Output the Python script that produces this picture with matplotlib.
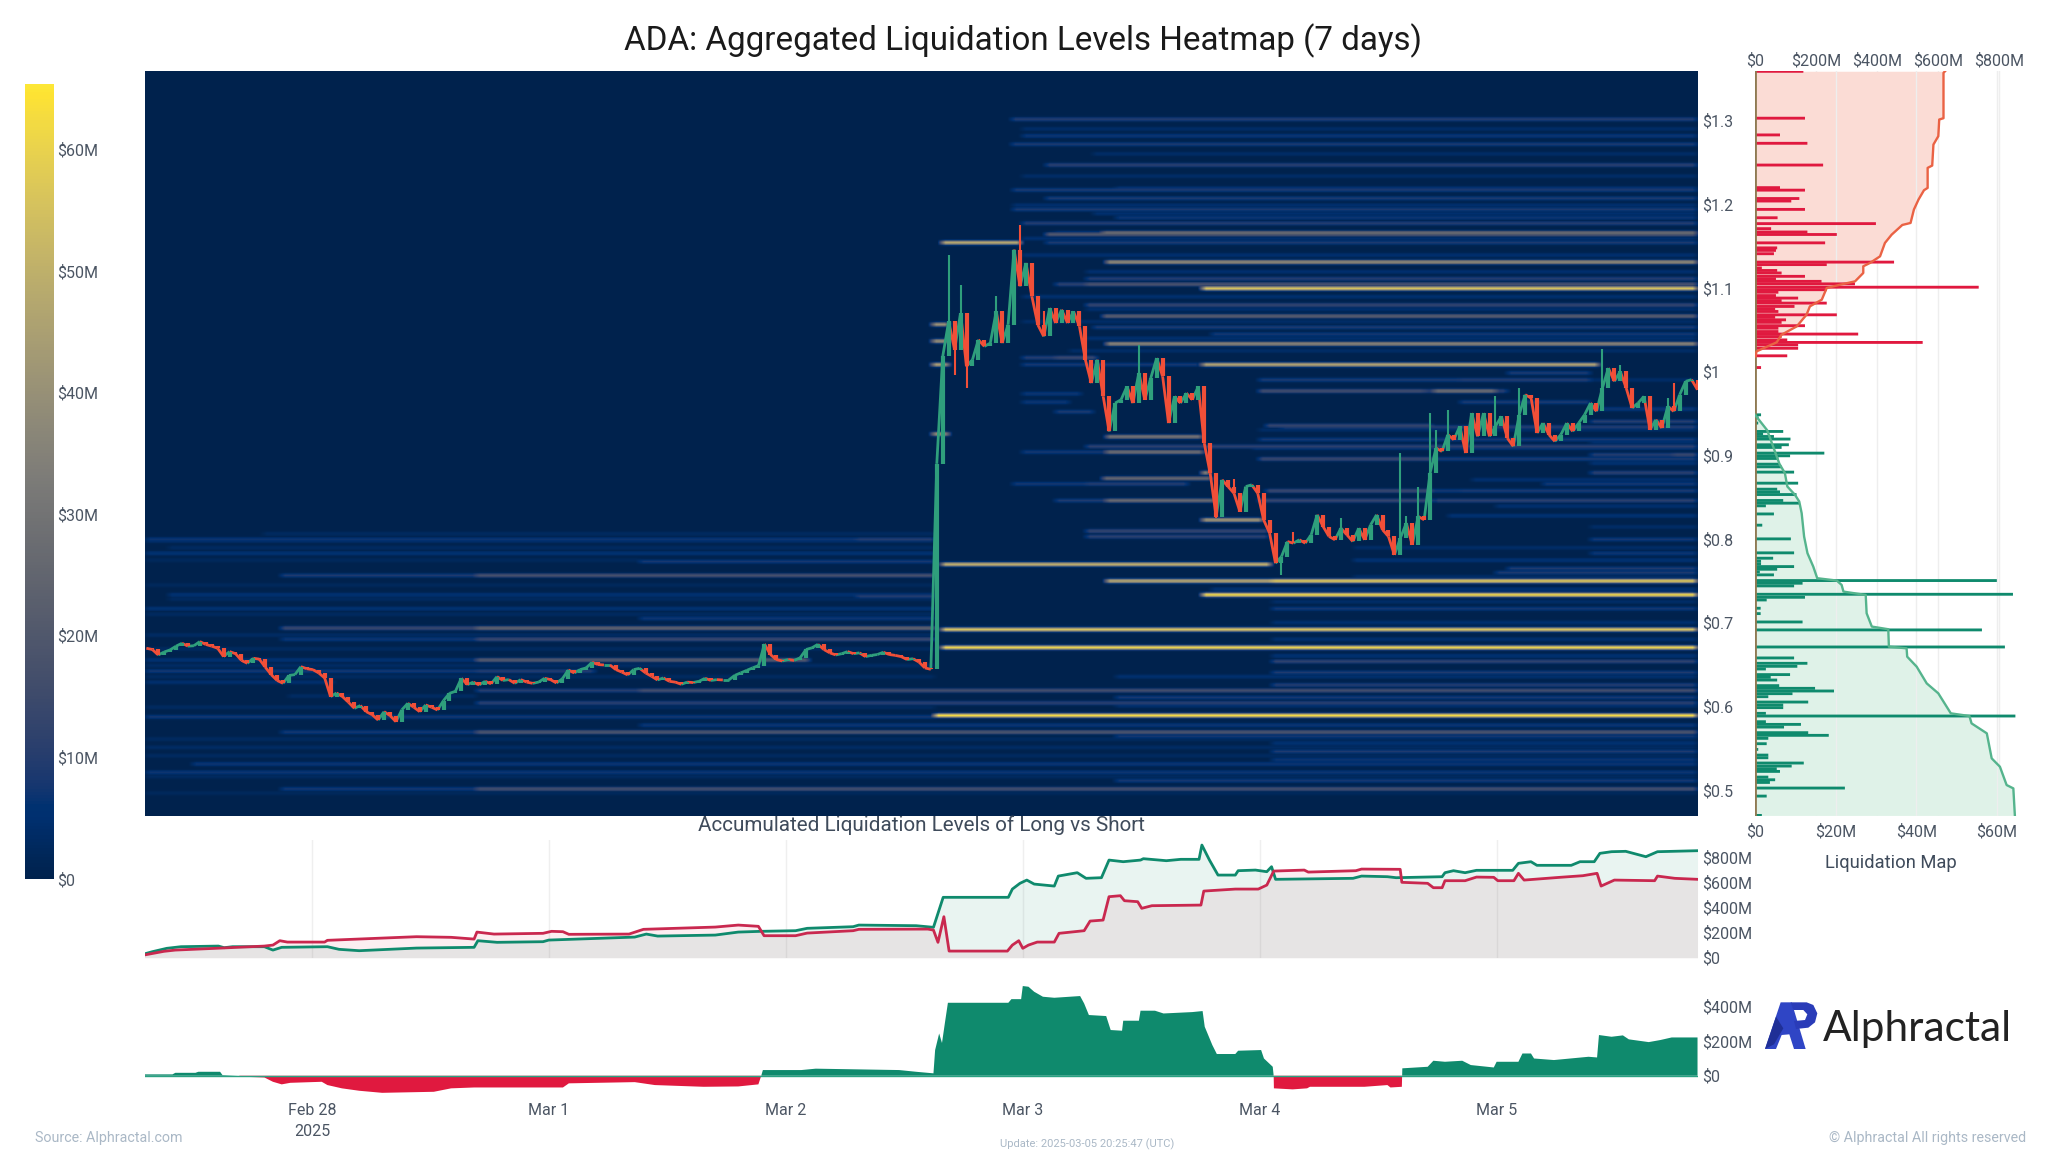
import numpy as np
import matplotlib
matplotlib.use("Agg")
import matplotlib.pyplot as plt
from matplotlib.collections import LineCollection
from matplotlib.patches import Polygon
from matplotlib.transforms import Affine2D

plt.rcParams['font.family'] = ['Roboto', 'DejaVu Sans']

W, H = 2048, 1152
TICK = "#4b5563"
GREEN = "#0f8a6d"
RED = "#e0193f"

# ---------------------------------------------------------------- data
day_ticks = [0, 1, 2, 3, 4, 5]
day_labels = ["Feb 28\n2025", "Mar 1", "Mar 2", "Mar 3", "Mar 4", "Mar 5"]
price_ticks = [0.5, 0.6, 0.7, 0.8, 0.9, 1.0, 1.1, 1.2, 1.3]
price_labels = ["$0.5", "$0.6", "$0.7", "$0.8", "$0.9", "$1", "$1.1", "$1.2", "$1.3"]

candle_close = [
 .6695,.668,.6615,.665,.6675,.672,.6755,.672,.6725,.6775,.674,.672,.6695,.6595,.6655,.663,.655,.6515,.6575,.6565,
 .647,.638,.631,.6276,.637,.638,.6475,.645,.644,.640,.634,.6117,.616,.6117,.605,.5977,.601,.5937,.590,.5837,
 .5937,.589,.5817,.596,.6037,.599,.5937,.6017,.599,.5957,.607,.6156,.618,.6336,.626,.629,.6256,.630,.627,.6356,
 .631,.632,.6276,.632,.629,.6276,.629,.6336,.632,.628,.633,.6435,.640,.644,.646,.6527,.650,.6495,.6495,.644,
 .641,.6376,.644,.6455,.640,.636,.6316,.634,.630,.629,.6264,.629,.6285,.630,.6336,.631,.632,.6316,.6316,.637,
 .640,.643,.646,.6487,.6746,.662,.656,.6543,.656,.655,.658,.668,.670,.6742,.668,.664,.6615,.663,.6655,.663,
 .664,.6595,.661,.662,.6647,.662,.661,.6595,.656,.657,.653,.646,.6443,
 .890,1.0183,1.0602,1.0263,1.070,1.0063,1.0143,1.0382,1.0303,1.0342,1.0721,1.0342,1.0562,1.1459,1.1021,1.130,1.090,
 1.056,1.0422,1.0761,1.0582,1.0741,1.0582,1.0721,1.0542,1.0143,.9864,1.0143,.9705,.9286,.9625,.9665,.9824,.9625,.9984,
 .9665,.9924,1.0163,.9944,.9386,.9705,.9625,.9744,.9665,.9824,.9146,.8787,.8269,.8708,.8628,.8548,.8329,.8628,.8648,
 .8548,.8229,.807,.7711,.7791,.797,.7951,.7991,.7951,.8051,.829,.815,.8031,.7991,.813,.8051,.7971,.813,.7991,.817,
 .829,.8111,.8031,.7811,.8011,.819,.7931,.827,.823,.8788,.9087,.9047,.9247,.9187,.9347,.9028,.9506,.9227,.9506,.9227,
 .9347,.9466,.9207,.9107,.9486,.9725,.9685,.9267,.9386,.9247,.9167,.9247,.9386,.9287,.9386,.9486,.9626,.9526,.9805,
 1.0044,.9885,1.0004,.9805,.9566,.9626,.9705,.9307,.9426,.9327,.9586,.9526,.9725,.9885,.9905,.9785]
wick_index = [135, 136, 137, 138, 143, 146, 147, 151, 159, 167, 171, 180, 183, 191, 193, 201, 211, 212, 214, 216, 217, 219, 227, 231, 245, 248, 253, 256, 257]
wick_price = [1.140, .9964, 1.104, .9804, 1.090, 1.125, 1.1758, 1.072, 1.013, 1.0323, 1.014, .825, .872, .7571, .809, .825, .9028, .827, .8628, .9506, .9307, .9546, .9705, .9805, 1.027, 1.0084, .9307, .9685, .9865]

heat_price = [.799,.799,.797,.783,.772,.756,.756,.733,.731,.717,.705,.693,.693,.679,.679,.655,.655,.641,.641,.628,
 .618,.618,.603,.587,.577,.568,.568,.530,.521,.501,.501,.589,
 .653,.640,.625,.610,.563,.546,.510,.716,.760,.691,.670,.733,.749,.749,.769,
 1.302,1.282,1.273,1.247,1.22,1.217,1.207,1.194,1.184,1.177,1.1666,1.1666,1.164,
 1.154,1.154,1.131,1.111,1.105,1.105,1.100,1.080,1.067,1.054,1.033,1.045,
 1.057,1.037,1.008,.925,1.017,1.017,1.008,1.008,.9764,.974,.964,.952,.9346,.9226,.919,.911,.9035,.9035,.895,.879,
 .8716,.866,.866,.857,.846,.846,.823,.809,.803,.9985,.991,.991,.9765,.9765,.963,.941,.9347,.909,.901,.901,.895,
 .879,.865,.857,.857,.845,.845,.827,.809,.799,.783,.775,.764]
heat_start = [-.7,2.30,-.7,-.7,1.39,-.127,.696,-.6,2.30,-.7,1.39,-.127,.696,-.127,.696,.696,-.7,-.7,.696,-.7,
 .696,1.39,.696,-.7,1.39,-.127,.696,-.5,-.7,-.127,.696,2.63,
 4.06,4.06,4.06,3.4,3.4,4.06,3.4,4.06,5.0,2.66,2.66,3.76,3.36,4.06,2.66,
 2.955,3.0,2.955,3.1,3.4,2.96,3.1,2.96,3.4,3.0,3.14,3.34,3.1,
 2.66,3.1,3.36,3.27,3.14,3.27,3.76,3.27,3.34,3.3,3.36,3.8,
 2.62,2.62,2.62,2.62,3.0,3.14,3.0,3.76,4.05,3.0,3.0,3.14,4.1,3.36,4.0,3.27,3.36,3.0,4.1,3.76,
 3.34,2.96,3.27,4.1,3.14,3.36,3.76,3.27,3.27,5.05,4.0,4.85,4.0,4.74,4.85,5.4,4.03,3.98,5.4,5.75,4.0,
 5.4,5.2,4.03,4.85,4.0,4.74,4.8,3.88,5.4,5.4,4.4,5.05]
heat_end = [2.63,2.63,2.63,2.63,2.63,.696,2.63,2.63,2.63,2.63,2.63,.696,2.63,.696,2.63,2.10,.696,.696,1.2,.1,
 1.39,5.85,5.85,2.63,5.85,.696,5.85,5.85,5.85,.696,5.85,5.85,
 5.85,5.85,5.85,5.85,5.85,5.85,5.85,5.85,5.85,5.85,5.85,5.85,4.06,5.85,4.05,
 5.85,5.85,5.85,5.85,5.85,5.85,5.85,5.85,5.85,5.85,3.34,5.85,5.85,
 2.996,5.85,5.85,5.85,3.27,5.85,5.85,5.85,5.85,5.85,5.85,5.85,
 2.69,2.69,2.69,2.69,3.14,3.32,3.75,5.435,5.05,3.25,3.2,3.3,5.85,3.76,5.85,5.85,3.77,3.36,5.85,3.79,
 3.8,3.27,3.7,5.85,3.36,3.82,4.02,4.04,4.04,5.4,4.85,5.4,4.7,5.0,5.4,5.85,4.73,5.85,5.75,5.85,4.73,
 5.85,5.85,4.73,5.85,4.73,5.85,5.85,4.0,5.85,5.85,5.85,5.85]
heat_value = [7,10,5,6,8,9,17,6,10,6,7,14,24,7,14,21,6,8,10,5,
 10,16,11,8,7,8,19,7,7,8,17,62,
 12,9,10,8,8,9,8,8,9,55,60,62,48,58,50,
 10,7,9,11,7,9,9,9,7,10,8,28,20,
 48,9,38,10,11,18,56,13,22,9,36,8,
 40,40,45,40,10,14,8,46,11,7,7,9,10,30,8,11,28,8,9,40,
 25,8,10,8,9,26,42,13,11,9,9,10,16,28,9,10,13,8,10,14,14,
 11,8,14,9,13,11,6,11,8,7,6,9]

dim_price = [.806,.79,.775,.745,.728,.710,.685,.668,.648,.635,.612,.598,.56,.55,.54,.515,.495,
 1.29,1.26,1.235,1.20,1.19,1.16,1.14,1.12,1.09,1.075,1.06,1.04,1.025,.99,.955,.93,.915,.89,.87,.84,.815,.79,.755,.74,.725,.70,.68,.66,.635,.6,.555,.535,.52]
dim_start = [-.2,-.6,-.7,-.7,-.6,-.7,-.7,-.7,-.7,-.7,-.1,-.7,-.7,-.7,-.7,-.7,-.7,
 3.0,3.3,3.0,2.96,3.3,3.0,3.0,3.27,3.0,3.27,3.0,3.27,3.2,4.0,5.4,4.0,5.4,5.4,4.9,5.0,5.4,4.4,4.4,3.8,4.06,4.06,4.06,4.06,3.4,3.4,4.06,4.06,3.4]
dim_end = [2.63,2.63,1.39,2.63,2.63,2.63,2.63,2.63,2.63,2.63,.696,2.63,5.85,5.85,5.85,5.85,5.85,
 5.85,5.85,5.85,5.85,5.85,5.85,5.85,5.85,5.85,5.85,5.85,5.85,5.85,5.85,5.85,5.85,5.85,5.85,5.85,5.85,5.85,5.85,5.85,5.85,5.85,5.85,5.85,5.85,5.85,5.85,5.85,5.85,5.85]
dim_value = [3,3,2.5,2.5,3,3,3.5,3,3.5,3,3.5,3,3,3.5,3,3,2.5,
 4,4,4,5,5,5,5,5,5,5,4,5,4,4,7,4,5,6,5,5,4,4,4,6,4,5,5,6,5,5,6,7,6]

short_price = [1.359,1.303,1.283,1.273,1.247,1.22,1.217,1.207,1.204,1.194,1.184,1.177,1.171,1.167,1.164,1.154,1.148,1.145,1.141,1.131,
 1.128,1.124,1.121,1.118,1.114,1.111,1.108,1.105,1.101,1.098,1.095,1.091,1.088,1.085,1.082,1.078,1.075,1.072,1.068,1.065,
 1.062,1.059,1.055,1.052,1.048,1.045,1.042,1.038,1.035,1.032,1.028,1.019,1.005]
short_value = [12,12.4,6.2,13,16.9,6.2,12.4,11,9,12.4,5.6,30,4,13,20.3,17.4,5.5,5.2,4.7,34.5,
 17.8,1.7,5.5,6.6,12.4,5.2,16.5,24.8,55.5,17.8,5.8,5.2,10.7,6.6,17.8,9.8,5,5.8,20.3,5,
 7.7,6.6,12.4,5.8,5.8,25.6,6.6,8,41.6,10.7,10.7,8,1.5]
long_price = [.9485,.945,.9386,.9286,.9258,.9226,.9195,.9127,.9095,.9027,.8995,.8963,.8895,.8863,.88,.8668,.8596,.8564,.8532,.8461,
 .8429,.8397,.83,.8166,.8002,.7835,.7771,.7735,.7703,.7671,.7639,.7607,.7572,.7504,.7472,.744,.734,.7304,.7272,.7173,
 .7109,.7009,.6914,.671,.6579,.6515,.6479,.6447,.638,.6347,.6315,.6248,.6216,.6184,.6152,.6116,.6052,.6017,.5985,.5917,
 .5885,.5817,.5785,.5753,.5686,.5654,.5618,.5554,.5486,.5418,.5386,.5323,.5287,.5255,.5223,.5155,.5123,.5091,.5024,.4928,.4697]
long_value = [1.5,.9,.8,7,2,4.7,8.8,8.4,6.6,17.2,8.7,5.8,6,6.6,9.7,10.7,5.5,6.2,10.3,7,
 11,2.7,4.7,1.8,8.9,9.7,4.5,1.5,1.5,9.7,5.5,1.2,4.7,60,11.8,9.7,64,12.4,2.9,1.4,
 1.4,11.8,56.3,62,9.7,13,10.5,2.7,8.7,3.9,5.5,6,14.9,19.6,9.3,3.3,13.2,7,7,2.7,
 64.6,2.7,11.4,7.2,13.2,18.3,3.3,2.9,.8,3.3,3.3,12.1,9.1,5.4,6.2,3.3,5,3.7,22.3,2.9,1.7]

short_cum_price = [1.3591,1.3572,1.303,1.3014,1.2815,1.2715,1.2464,1.2436,1.2197,1.2169,1.2057,1.1938,1.1778,1.1754,1.1638,1.1539,1.1379,1.1300,1.1260,1.1180,1.1080,1.1040,1.1000,1.0861,1.0781,1.0682,1.0542,1.0442,1.0351,1.0243,1.0183]
short_cum_value = [623,618,618,604,601,585,581,566,566,554,536,521,510,483,448,426,410,377,355,355,328,279,235,219,180,169,137,87,71,5,2]
long_cum_price = [.9485,.93,.89,.8788,.8628,.8529,.8449,.8309,.8030,.7831,.7671,.7532,.7504,.7452,.7372,.7332,.7113,.6954,.6922,.6714,.6694,.6594,.6475,.6275,.6156,.5917,.5885,.5797,.5678,.5379,.5279,.5060,.5020,.4697]
long_cum_value = [0,40,80,98,106,131,145,153,161,172,191,204,268,284,290,363,366,383,437,439,497,499,530,563,601,642,703,710,760,776,803,825,847,852]

green_day = [-.71,-.674,-.613,-.553,-.395,-.371,-.335,-.201,-.165,-.128,.065,.114,.199,.441,.684,.70,.781,.975,.999,1.362,1.411,1.459,1.702,1.799,1.896,2.041,2.09,2.284,2.308,2.55,2.623,2.664,
 2.939,2.956,2.988,3.017,3.048,3.133,3.15,3.23,3.267,3.332,3.364,3.424,3.497,3.509,3.606,3.667,3.744,3.756,3.788,3.824,3.897,3.909,3.982,4.03,4.05,4.067,4.394,4.43,4.539,4.576,4.77,4.782,4.818,4.867,4.915,5.068,5.092,5.145,5.17,5.315,5.352,5.412,5.436,5.485,5.545,5.63,5.679,5.848]
green_val = [29,48,75,88,93,80,88,88,61,83,88,67,56,77,83,136,123,128,141,165,189,173,181,205,211,216,235,248,261,256,243,483,
 483,549,595,621,589,573,653,680,635,640,781,768,781,792,776,787,787,901,781,661,661,696,701,688,728,627,635,653,648,640,648,680,696,680,699,699,755,768,739,739,768,768,835,848,851,808,848,856]
red_day = [-.71,-.625,-.577,-.407,-.201,-.165,-.136,-.104,.053,.065,.272,.441,.587,.684,.696,.768,.975,1.011,1.059,1.084,1.338,1.399,1.702,1.799,1.884,1.908,2.041,2.09,2.284,2.308,2.599,2.623,2.642,2.667,2.689,
 2.935,2.956,2.983,3.0,3.024,3.061,3.133,3.153,3.259,3.284,3.339,3.364,3.412,3.429,3.485,3.502,3.545,3.752,3.764,3.897,3.994,4.03,4.059,4.188,4.205,4.406,4.43,4.593,4.6,4.709,4.733,4.77,4.782,4.867,4.915,4.988,5.005,5.073,5.092,5.116,5.267,5.364,5.424,5.441,5.497,5.667,5.679,5.752,5.848]
red_val = [21,51,61,75,93,101,136,125,125,139,155,168,163,149,205,189,195,211,208,187,189,227,245,261,251,176,176,197,216,227,229,221,123,328,53,
 53,101,136,75,101,125,125,195,216,293,301,488,496,456,448,395,416,421,533,549,549,581,693,701,685,696,709,707,603,595,560,560,616,616,645,643,616,616,675,621,643,656,675,573,621,616,653,635,627]

diff_day = [-.71,-.589,-.577,-.492,-.48,-.388,-.378,-.31,-.286,-.201,-.165,-.128,-.092,.041,.065,.126,.199,.296,.368,.514,.587,.684,1.059,1.084,1.362,1.447,1.653,1.799,1.884,1.896,1.903,2.065,2.126,2.478,2.55,2.623,2.63,2.647,2.659,2.672,2.684,
 2.939,2.952,2.993,3.0,3.024,3.048,3.085,3.133,3.242,3.259,3.279,3.352,3.371,3.419,3.424,3.49,3.497,3.558,3.594,3.715,3.759,3.768,3.8,3.819,3.897,3.909,4.006,4.018,4.055,4.059,4.06,4.139,4.2,4.212,4.442,4.539,4.552,4.6,4.602,4.709,4.733,4.782,4.855,4.891,4.988,5.0,5.092,5.109,5.145,5.158,5.242,5.388,5.424,5.432,5.485,5.533,5.558,5.642,5.691,5.739,5.848]
diff_val = [8,8,17,17,23,23,4,0,-6,-10,-35,-50,-41,-35,-54,-73,-87,-99,-97,-93,-73,-68,-68,-44,-37,-54,-64,-62,-50,0,33,33,41,33,23,14,149,245,190,313,423,
 423,444,444,520,516,487,458,452,462,419,352,346,265,261,319,319,377,377,361,369,375,284,178,126,126,145,149,100,52,0,-73,-79,-73,-64,-64,-54,-68,-64,43,52,87,81,87,62,48,81,81,129,129,100,91,110,106,236,226,234,211,195,207,222,222]

# ---------------------------------------------------------------- layout
def axes_px(l, t, r, b, **kw):
    return fig.add_axes([l / W, 1 - b / H, (r - l) / W, (b - t) / H], **kw)

fig = plt.figure(figsize=(W / 100, H / 100), dpi=100, facecolor="white")
XLIM = (-0.705, 5.85)
YLIM = (0.469, 1.36)

# ---------------------------------------------------------------- heatmap
ax = axes_px(145, 70.5, 1698, 816)
BIN = 0.00166
day_edges = np.arange(XLIM[0], XLIM[1] + 0.005, 0.005)
price_edges = np.arange(YLIM[0], YLIM[1] + BIN, BIN)
Z = np.zeros((len(price_edges), len(day_edges)))
for p, s, e, v in zip(heat_price + dim_price, heat_start + dim_start, heat_end + dim_end, heat_value + dim_value):
    row = int(round((p - YLIM[0]) / BIN))
    c0 = max(int((s - XLIM[0]) / 0.005), 0)
    c1 = int((e - XLIM[0]) / 0.005)
    for off, f in zip((-2, -1, 0, 1, 2), (0.12, 0.7, 1, 0.7, 0.12)):
        Z[row + off, c0:c1] = np.maximum(Z[row + off, c0:c1], f * v)
kernel = np.ones(7) / 7
Z = np.array([np.convolve(np.pad(r, 3, mode="edge"), kernel, mode="valid") for r in Z])
ax.imshow(Z, origin="lower", aspect="auto", cmap="cividis", vmin=0, vmax=65.4,
          extent=[XLIM[0], XLIM[1], YLIM[0], YLIM[1]], interpolation="bilinear")

closes = np.array(candle_close)
opens = np.r_[closes[0], closes[:-1]]
step = (1698 - 146.3) / 237 / 261
days = -0.6993 + step * np.arange(len(closes))
cols = np.where(closes >= opens, "#2f9f7c", "#f14f38")
segs = [[(days[i], closes[i]), (days[i + 1], closes[i + 1])] for i in range(len(closes) - 1)]
ax.add_collection(LineCollection(segs, colors=cols[1:], linewidths=2.0, zorder=3))
ax.vlines(days, opens, closes, colors=cols, linewidth=3.0, capstyle="butt", zorder=3)
wi = np.array(wick_index)
ax.vlines(days[wi], np.minimum(opens[wi], closes[wi]), wick_price, colors=cols[wi], linewidth=1.5, zorder=3)
ax.set_xlim(XLIM)
ax.set_ylim(YLIM)
ax.set_xticks([])
ax.yaxis.tick_right()
ax.set_yticks(price_ticks, price_labels)
ax.tick_params(axis="y", length=0, pad=2.8, labelsize=11.5, labelcolor=TICK)
for s in ax.spines.values():
    s.set_visible(False)

# ---------------------------------------------------------------- colour bar
cb = axes_px(25, 83.5, 53.5, 879)
cb.imshow(np.linspace(0, 1, 256)[:, None], origin="lower", aspect="auto", cmap="cividis",
          extent=[0, 1, 0, 65.4])
cb.set_xticks([])
cb.yaxis.tick_right()
cb.set_yticks([0, 10, 20, 30, 40, 50, 60], ["$0", "$10M", "$20M", "$30M", "$40M", "$50M", "$60M"])
cb.tick_params(axis="y", length=0, pad=2.5, labelsize=11.5, labelcolor=TICK)
for s in cb.spines.values():
    s.set_visible(False)

# ---------------------------------------------------------------- liquidation map
lm = axes_px(1755, 70.5, 2017, 816)
lm.set_xlim(0, 65)
lm.set_ylim(YLIM)
lm.set_yticks([])
lm.set_xticks([0, 20, 40, 60], ["$0", "$20M", "$40M", "$60M"])
lm.tick_params(axis="x", length=0, pad=6, labelsize=11.5, labelcolor=TICK)
lm.grid(axis="x", color="#eeeeee", lw=1)
lm.set_axisbelow(True)
top = lm.twiny()
top.set_xlim(0, 859)
top.set_ylim(YLIM)
top.set_xticks([0, 200, 400, 600, 800], ["$0", "$200M", "$400M", "$600M", "$800M"])
top.tick_params(axis="x", length=0, pad=1.5, labelsize=11.5, labelcolor=TICK)
top.grid(axis="x", color="#eeeeee", lw=1)
top.set_axisbelow(True)
for a in (lm, top):
    for s in a.spines.values():
        s.set_visible(False)
lm.set_zorder(3)
lm.patch.set_visible(False)
top.fill_betweenx(short_cum_price, 0, short_cum_value, color="#fbdcd5", lw=0)
top.fill_betweenx(long_cum_price, 0, long_cum_value, color="#dff2e8", lw=0)
for bars in (lm.barh(short_price, short_value, height=0.0034, color=RED, lw=0),
             lm.barh(long_price, long_value, height=0.0034, color=GREEN, lw=0)):
    for b in bars:
        b.set_snap(False)
top2 = lm.twiny()
top2.set_xlim(0, 859)
top2.set_xticks([])
for s in top2.spines.values():
    s.set_visible(False)
top2.patch.set_visible(False)
top2.set_zorder(4)
top2.plot(short_cum_value, short_cum_price, color="#ea6244", lw=1.7)
top2.plot(long_cum_value, long_cum_price, color="#55b48d", lw=1.7)
lm.axvline(0, color="#8f7a52", lw=2, zorder=5)
fig.text(1891 / W, 1 - 863 / H, "Liquidation Map", ha="center", va="center", fontsize=13.2, color="#3f4b5b")

# ---------------------------------------------------------------- long vs short
mid = axes_px(145, 840, 1698, 957.7)
mid.set_xlim(XLIM)
mid.set_ylim(0, 941.6)
mid.fill_between(red_day, 0, red_val, color="#dc143c", alpha=0.07, lw=0)
mid.fill_between(green_day, 0, green_val, color="#12886a", alpha=0.09, lw=0)
mid.plot(green_day, green_val, color=GREEN, lw=2)
mid.plot(red_day, red_val, color="#c9284f", lw=2)
mid.set_xticks(day_ticks, [])
mid.grid(axis="x", color="#efefef", lw=1)
mid.set_axisbelow(True)
mid.yaxis.tick_right()
mid.set_yticks([0, 200, 400, 600, 800], ["$0", "$200M", "$400M", "$600M", "$800M"])
mid.tick_params(axis="y", length=0, pad=2.8, labelsize=11.5, labelcolor=TICK)
mid.tick_params(axis="x", length=0)
for s in mid.spines.values():
    s.set_visible(False)
fig.text(921 / W, 1 - 825.5 / H, "Accumulated Liquidation Levels of Long vs Short", ha="center", va="center",
         fontsize=14.9, color="#3f4b5b")

# ---------------------------------------------------------------- difference
low = axes_px(145, 980, 1698, 1098)
low.set_xlim(XLIM)
low.set_ylim(-129, 555)
dd = np.array(diff_day)
dv = np.array(diff_val, dtype=float)
low.fill_between(dd, 0, dv, where=dv >= 0, color=GREEN, lw=0, interpolate=True)
low.fill_between(dd, 0, dv, where=dv <= 0, color=RED, lw=0, interpolate=True)
low.axhline(0, color="#2aa182", lw=1)
low.set_xticks(day_ticks, day_labels, linespacing=1.5)
low.yaxis.tick_right()
low.set_yticks([0, 200, 400], ["$0", "$200M", "$400M"])
low.tick_params(axis="y", length=0, pad=2.8, labelsize=11.5, labelcolor=TICK)
low.tick_params(axis="x", length=0, pad=3.5, labelsize=11.5, labelcolor=TICK)
for s in low.spines.values():
    s.set_visible(False)

# ---------------------------------------------------------------- titles, footer, logo
fig.text(1023 / W, 1 - 41 / H, "ADA: Aggregated Liquidation Levels Heatmap (7 days)", ha="center", va="center",
         fontsize=23.9, color="#1a1a1a")
fig.text(35 / W, 1 - 1138 / H, "Source: Alphractal.com", ha="left", va="center", fontsize=10.3, color="#aab8c6")
fig.text(2026 / W, 1 - 1138 / H, "© Alphractal All rights reserved", ha="right", va="center", fontsize=10.3, color="#aab8c6")
fig.text(1087 / W, 1 - 1144 / H, "Update: 2025-03-05 20:25:47 (UTC)", ha="center", va="center", fontsize=8, color="#aab8c6")
fig.text(1823 / W, 1 - 1029 / H, "Alphractal", ha="left", va="center", fontsize=30.5, color="#222222", family=["Lato", "DejaVu Sans"])

def logo(points, color):
    px = [(1750 + x / 3, H - (985 + y / 3)) for x, y in points]
    fig.add_artist(Polygon(px, closed=True, facecolor=color, edgecolor="none",
                           transform=Affine2D().scale(1 / W, 1 / H) + fig.transFigure))
logo([(45, 192), (92, 52), (125, 52), (167, 192), (132, 192), (118, 148), (95, 150), (78, 192)], "#2f45c5")
logo([(45, 192), (78, 95), (100, 130), (72, 178)], "#1f2f96")
logo([(122, 52), (170, 52), (190, 60), (202, 85), (195, 112), (175, 128), (138, 132), (132, 108), (165, 105), (172, 88), (160, 75), (130, 75)], "#2a3cb8")

fig.savefig("out.png", dpi=100, facecolor="white")
